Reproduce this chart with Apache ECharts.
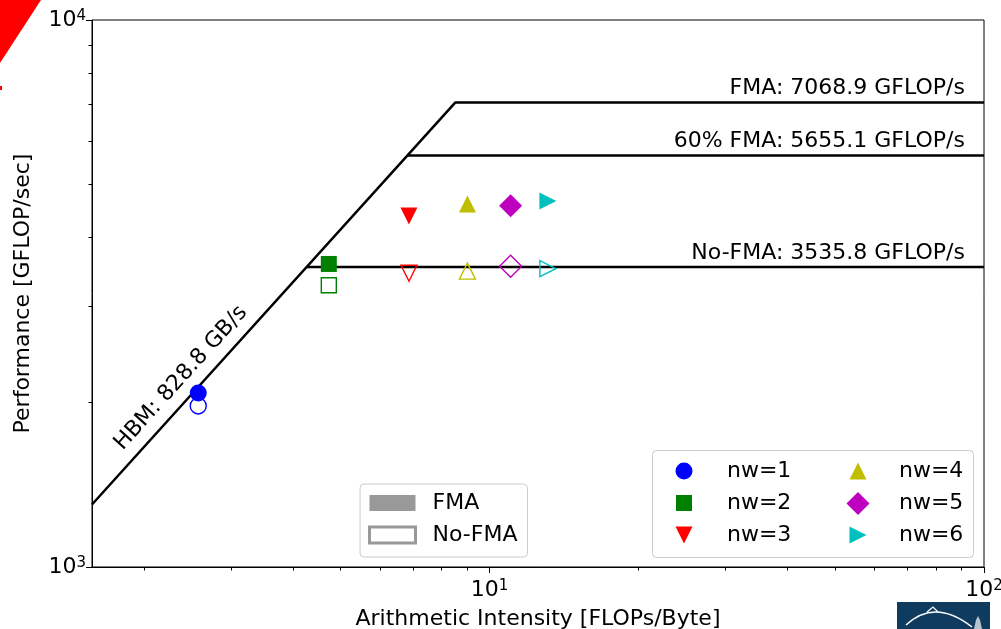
<!DOCTYPE html>
<html><head><meta charset="utf-8">
<script src="https://cdn.jsdelivr.net/npm/echarts@6/dist/echarts.min.js"></script>
<style>html,body{margin:0;padding:0;background:#fff}#c{width:1001px;height:629px}</style>
</head><body><div id="c"></div>
<script>
// ---- data ----
const categories = ['nw=1', 'nw=2', 'nw=3', 'nw=4', 'nw=5', 'nw=6'];
const intensity = [2.575, 4.73, 6.87, 9.02, 11.03, 13.12];
const perfFMA = [2080, 3581, 4382, 4609, 4574, 4667];
const perfNoFMA = [1970, 3275, 3443, 3475, 3547, 3510];
const hbmRoof = [[1.57, 1301], [8.529, 7068.9], [100, 7068.9]];
const fma60Roof = [[6.823, 5655.1], [100, 5655.1]];
const noFmaRoof = [[4.266, 3535.8], [100, 3535.8]];
const roofLabels = ['FMA: 7068.9 GFLOP/s', '60% FMA: 5655.1 GFLOP/s', 'No-FMA: 3535.8 GFLOP/s'];
const roofLabelAnchors = [[91.5, 7068.9], [91.5, 5655.1], [91.5, 3535.8]];
const hbmLabel = 'HBM: 828.8 GB/s';
const hbmLabelAnchor = [2.376, 2216];
const xMajorTicks = [10, 100];
const xMinorTicks = [2, 3, 4, 5, 6, 7, 8, 9, 20, 30, 40, 50, 60, 70, 80, 90];
const yMajorTicks = [1000, 10000];
const yMinorTicks = [2000, 3000, 4000, 5000, 6000, 7000, 8000, 9000];
const xTitle = 'Arithmetic Intensity [FLOPs/Byte]';
const yTitle = 'Performance [GFLOP/sec]';
const kindNames = ['FMA', 'No-FMA'];

// ---- styles ----
const FONT = 'DejaVu Sans';
const TXT = '#000';
const colors = ['#0000ff', '#008000', '#ff0000', '#bfbf00', '#bf00bf', '#00bfbf'];
const symbols = ['circle', 'rect', 'path://M0,0L2,0L1,2Z', 'triangle', 'diamond', 'path://M0,0L2,1L0,2Z'];
const sizes = [17, 16, 17, 17, 23, 17];
const GRID = {left: 92, right: 17, top: 20, bottom: 62, containLabel: false, outerBoundsMode: 'none'};

const supFmt = v => '{b|10}{s|' + Math.round(Math.log10(v)) + '}';
const supRich = {
  b: {fontSize: 22, fontFamily: FONT, color: TXT},
  s: {fontSize: 15, fontFamily: FONT, color: TXT, verticalAlign: 'top'}
};

const series = [];
[hbmRoof, fma60Roof, noFmaRoof].forEach((d, i) => {
  series.push({type: 'line', name: 'roof' + i, data: d, symbol: 'none', silent: true,
    lineStyle: {color: '#000', width: 2.5}, z: 1});
});
categories.forEach((c, i) => {
  series.push({type: 'scatter', name: c, data: [[intensity[i], perfFMA[i]]],
    symbol: symbols[i], symbolSize: sizes[i],
    itemStyle: {color: colors[i], opacity: 1}, z: 3});
  series.push({type: 'scatter', name: c + ' (No-FMA)', data: [[intensity[i], perfNoFMA[i]]],
    symbol: symbols[i], symbolSize: sizes[i] - 1,
    itemStyle: {color: 'rgba(0,0,0,0)', borderColor: colors[i], borderWidth: 1.4, opacity: 1}, z: 3});
});
series.push({type: 'scatter', name: 'FMA', data: [], itemStyle: {color: '#808080'}});
series.push({type: 'scatter', name: 'No-FMA', data: [], itemStyle: {color: '#ffffff', borderColor: '#808080', borderWidth: 3}});
series.push({type: 'scatter', name: 'roofLabels', silent: true, symbolSize: 0,
  itemStyle: {opacity: 1},
  data: roofLabelAnchors.map((p, i) => ({value: p, name: roofLabels[i]})),
  label: {show: true, position: 'left', distance: 0, offset: [0, -14], formatter: '{b}',
    fontSize: 22, fontFamily: FONT, color: TXT}});
series.push({type: 'scatter', name: 'hbmLabel', silent: true, symbolSize: 0,
  itemStyle: {opacity: 1},
  data: [{value: hbmLabelAnchor, name: hbmLabel}],
  label: {show: true, position: 'inside', formatter: '{b}', rotate: 47.85,
    fontSize: 22, fontFamily: FONT, color: TXT}});

const legends = categories.map((c, i) => {
  const col = i < 3 ? 0 : 1, row = i % 3;
  const cx = [684, 858][col], cy = [471, 503, 535][row];
  const w = sizes[i];
  const pad = (col === 0 ? 38 : 36) - w / 2;
  return {data: [c], orient: 'vertical', left: cx - w / 2, top: cy - 11, padding: 0,
    itemWidth: w, itemHeight: w, selectedMode: false, z: 5,
    textStyle: {fontSize: 22, fontFamily: FONT, color: TXT, padding: [0, 0, 0, pad]}};
});
legends.push({data: [
    {name: kindNames[0], icon: 'rect', itemStyle: {color: '#808080', borderWidth: 0}},
    {name: kindNames[1], icon: 'rect', itemStyle: {color: '#ffffff', borderColor: '#808080', borderWidth: 3}}
  ],
  orient: 'vertical', left: 360, top: 484, padding: [8, 10, 11, 8], itemGap: 10,
  itemWidth: 46, itemHeight: 16, selectedMode: false, z: 5,
  backgroundColor: '#fff', borderColor: '#cccccc', borderWidth: 1, borderRadius: 4,
  textStyle: {fontSize: 22, fontFamily: FONT, color: TXT, padding: [0, 0, 0, 12]}});

const option = {
  animation: false,
  backgroundColor: '#fff',
  textStyle: {fontFamily: FONT},
  grid: [
    Object.assign({show: true, borderColor: '#000', borderWidth: 1, backgroundColor: 'transparent'}, GRID),
    Object.assign({show: false}, GRID)
  ],
  xAxis: [
    {type: 'log', logBase: 10, gridIndex: 0, min: 1.57, max: 100,
      axisLine: {show: true, lineStyle: {color: '#000', width: 1}},
      axisTick: {show: true, customValues: xMajorTicks, length: 6, lineStyle: {color: '#000'}},
      axisLabel: {show: true, customValues: xMajorTicks, formatter: supFmt, rich: supRich, margin: 12},
      splitLine: {show: false}, minorTick: {show: false},
      name: xTitle, nameLocation: 'middle', nameGap: 41,
      nameTextStyle: {fontSize: 22, fontFamily: FONT, color: TXT}},
    {type: 'log', logBase: 10, gridIndex: 1, min: 1.57, max: 100,
      axisLine: {show: false},
      axisTick: {show: true, customValues: xMinorTicks, length: 3.5, lineStyle: {color: '#000'}},
      axisLabel: {show: false}, splitLine: {show: false}}
  ],
  yAxis: [
    {type: 'log', logBase: 10, gridIndex: 0, min: 1000, max: 10000,
      axisLine: {show: true, lineStyle: {color: '#000', width: 1}},
      axisTick: {show: true, customValues: yMajorTicks, length: 6, lineStyle: {color: '#000'}},
      axisLabel: {show: true, customValues: yMajorTicks, formatter: supFmt, rich: supRich, margin: 6},
      splitLine: {show: false},
      name: yTitle, nameLocation: 'middle', nameGap: 58, nameRotate: 90,
      nameTextStyle: {fontSize: 22, fontFamily: FONT, color: TXT}},
    {type: 'log', logBase: 10, gridIndex: 1, min: 1000, max: 10000,
      axisLine: {show: false},
      axisTick: {show: true, customValues: yMinorTicks, length: 3.5, lineStyle: {color: '#000'}},
      axisLabel: {show: false}, splitLine: {show: false}}
  ],
  legend: legends,
  series: series,
  graphic: [
    {type: 'rect', left: 652, top: 450, z: 4, shape: {width: 321, height: 107, r: 4},
      style: {fill: '#fff', stroke: '#cccccc', lineWidth: 1}},
    {type: 'polygon', z: 10, shape: {points: [[0, 0], [41, 0], [0, 63]]}, style: {fill: '#ff0000'}},
    {type: 'rect', z: 10, shape: {x: 0, y: 86, width: 2, height: 4}, style: {fill: '#ff0000'}},
    {type: 'rect', z: 10, shape: {x: 897, y: 602, width: 93, height: 27}, style: {fill: '#0f3b5f'}},
    {type: 'bezierCurve', z: 11, shape: {x1: 906, y1: 625, cpx1: 935, cpy1: 598, x2: 972, y2: 627},
      style: {stroke: '#fff', lineWidth: 1.5, fill: null}},
    {type: 'polyline', z: 11, shape: {points: [[927, 612], [933, 607], [938, 612]]},
      style: {stroke: '#fff', lineWidth: 1.2, fill: null}},
    {type: 'polygon', z: 11, shape: {points: [[974, 629], [976, 620], [978, 616], [980, 620], [982, 629]]},
      style: {fill: 'rgba(255,255,255,0.7)'}}
  ]
};
series.forEach(s => { if (s.type === 'line' || s.type === 'scatter') { s.xAxisIndex = 0; s.yAxisIndex = 0; } });
const chart = echarts.init(document.getElementById('c'), null, {renderer: 'canvas'});
chart.setOption(option);
</script></body></html>
